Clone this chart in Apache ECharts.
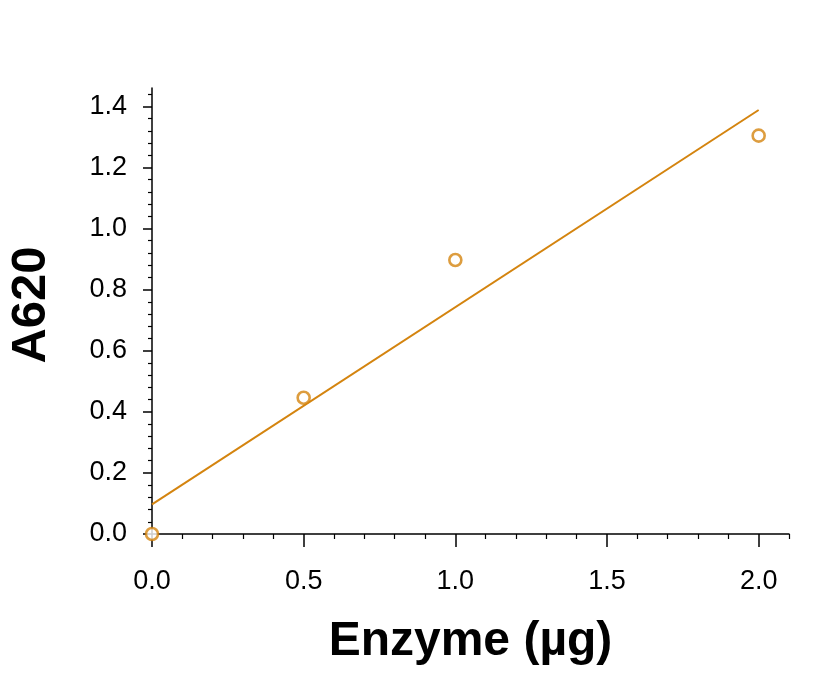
<!DOCTYPE html>
<html>
<head>
    <meta charset="utf-8">
    <title>A620 vs Enzyme</title>
    <script src="https://cdn.jsdelivr.net/npm/echarts@6/dist/echarts.min.js"></script>
    <style>
        html, body {margin:0;padding:0;background:#fff;}
        #main {width:828px;height:674px;}
    </style>
</head>
<body>
<div id="main"></div>
<script>
    // data
    var enzyme = [0.0, 0.5, 1.0, 2.0];
    var a620 = [0.0, 0.446, 0.897, 1.304];
    // fitted line end points
    var fitX = [0.0, 2.0];
    var fitY = [0.097, 1.388];
    // ticks
    var xMajor = [0, 0.5, 1.0, 1.5, 2.0];
    var yMajor = [0, 0.2, 0.4, 0.6, 0.8, 1.0, 1.2, 1.4];
    var xMinor = [], yMinor = [];
    for (var i = 1; i <= 21; i++) { if (i % 5 !== 0) xMinor.push(+(i * 0.1).toFixed(2)); }
    for (var j = 1; j <= 36; j++) { if (j % 5 !== 0) yMinor.push(+(j * 0.04).toFixed(2)); }

    var orange = '#D4840F';
    var font = 'Liberation Sans, Arial, sans-serif';

    var points = enzyme.map(function (x, k) { return [x, a620[k]]; });
    var fit = fitX.map(function (x, k) { return [x, fitY[k]]; });

    function fmt(v) { return v.toFixed(1); }

    var chart = echarts.init(document.getElementById('main'));
    chart.setOption({
        animation: false,
        grid: {left: 152, right: 39, top: 88, bottom: 140, containLabel: false, outerBoundsMode: 'none'},
        xAxis: [
            {
                type: 'value', min: 0, max: 2.1,
                name: 'Enzyme (µg)', nameLocation: 'middle', nameGap: 84,
                nameTextStyle: {fontFamily: font, fontWeight: 'bold', fontSize: 48, color: '#000'},
                axisLine: {show: true, onZero: false, lineStyle: {color: '#000', width: 1.5}},
                axisTick: {show: true, customValues: xMajor, length: 13, lineStyle: {color: '#000', width: 1.5}},
                axisLabel: {customValues: xMajor, formatter: fmt, margin: 34, fontFamily: font, fontSize: 27, color: '#000'},
                splitLine: {show: false}
            },
            {
                type: 'value', min: 0, max: 2.1, position: 'bottom',
                axisLine: {show: false},
                axisTick: {show: true, customValues: xMinor, length: 5, lineStyle: {color: '#000', width: 1.2}},
                axisLabel: {show: false},
                splitLine: {show: false}
            }
        ],
        yAxis: [
            {
                type: 'value', min: 0, max: 1.46,
                name: 'A620', nameLocation: 'middle', nameGap: 96, nameRotate: 90,
                nameTextStyle: {fontFamily: font, fontWeight: 'bold', fontSize: 49, color: '#000', padding: [0, 0, 0, 12]},
                axisLine: {show: true, onZero: false, lineStyle: {color: '#000', width: 1.5}},
                axisTick: {show: true, customValues: yMajor, length: 9, lineStyle: {color: '#000', width: 1.5}},
                axisLabel: {customValues: yMajor, formatter: fmt, margin: 25, fontFamily: font, fontSize: 27, color: '#000'},
                splitLine: {show: false}
            },
            {
                type: 'value', min: 0, max: 1.46, position: 'left',
                axisLine: {show: false},
                axisTick: {show: true, customValues: yMinor, length: 4, lineStyle: {color: '#000', width: 1.2}},
                axisLabel: {show: false},
                splitLine: {show: false}
            }
        ],
        series: [
            {
                name: 'fit', type: 'line', data: fit,
                xAxisIndex: 0, yAxisIndex: 0,
                showSymbol: false, symbol: 'none',
                lineStyle: {color: orange, width: 2}
            },
            {
                name: 'A620', type: 'scatter', data: points,
                xAxisIndex: 0, yAxisIndex: 0,
                symbol: 'circle', symbolSize: 12,
                itemStyle: {color: '#fff', borderColor: orange, borderWidth: 2.6},
                z: 3
            }
        ]
    });
</script>
</body>
</html>
